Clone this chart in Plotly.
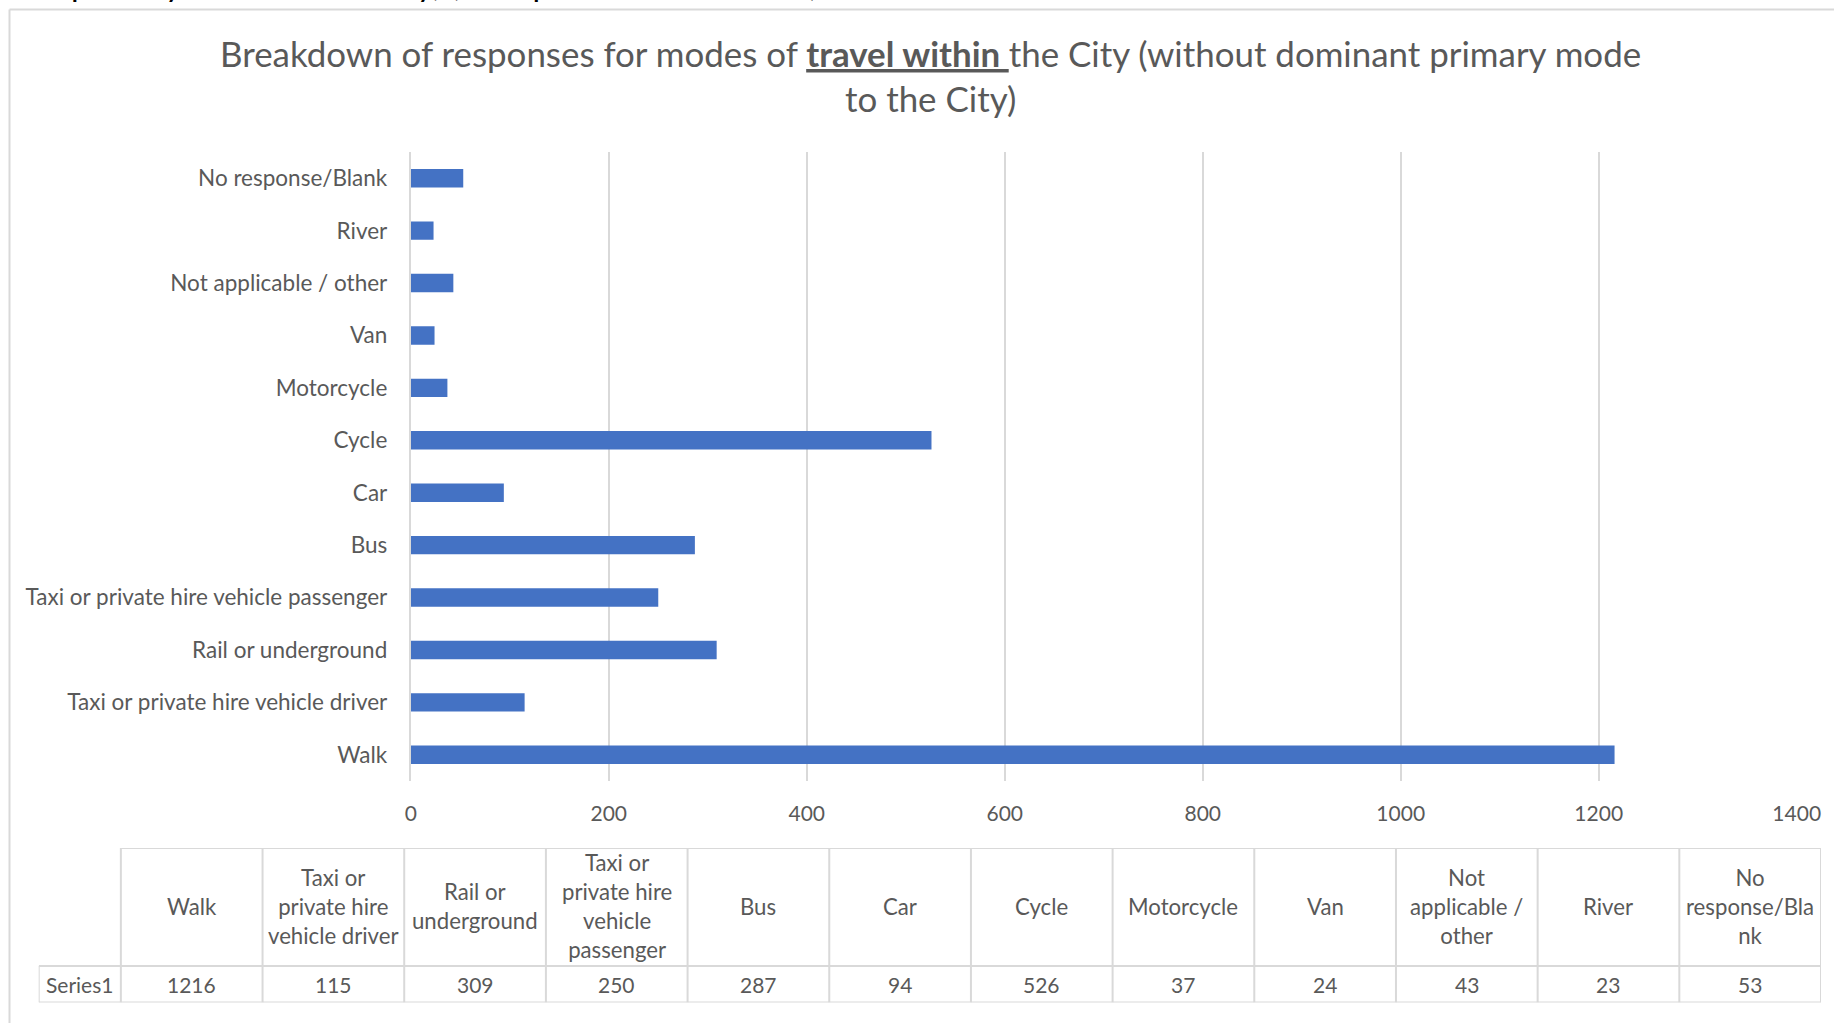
import plotly.graph_objects as go

# ---- data ----
categories = ["Walk", "Taxi or private hire vehicle driver", "Rail or underground",
              "Taxi or private hire vehicle passenger", "Bus", "Car", "Cycle",
              "Motorcycle", "Van", "Not applicable / other", "River", "No response/Blank"]
values = [1216, 115, 309, 250, 287, 94, 526, 37, 24, 43, 23, 53]
table_headers = ["Walk", "Taxi or<br>private hire<br>vehicle driver", "Rail or<br>underground",
                 "Taxi or<br>private hire<br>vehicle<br>passenger", "Bus", "Car", "Cycle",
                 "Motorcycle", "Van", "Not<br>applicable /<br>other", "River",
                 "No<br>response/Bla<br>nk"]
series_name = "Series1"
x_ticks = [0, 200, 400, 600, 800, 1000, 1200, 1400]
title_line1 = "Breakdown of responses for modes of <b><u>travel within </u></b>the City (without dominant primary mode"
title_line2 = "to the City)"
cut_text = "the primary mode to the City) (multiple modes selected)"

FONT = "Lato"
GREY = "#595959"
LINE = "#d9d9d9"
H = 1026
PAGE_W = 1858
S = 1834 / 1864.0   # observed horizontal capture scale
OFF = 6.0           # observed left offset (page px)


def fx(t):
    """target screenshot x (px) -> paper fraction"""
    return (t / S - OFF) / PAGE_W


def fy(t):
    """target screenshot y (px from top) -> paper fraction"""
    return 1 - t / H


fig = go.Figure()
fig.add_trace(go.Bar(
    x=values, y=categories, orientation="h", width=0.35,
    marker=dict(color="#4472C4", line=dict(width=0)),
    xaxis="x", yaxis="y", showlegend=False, hoverinfo="x+y"))

# invisible helper trace for table axes
fig.add_trace(go.Scatter(x=[None], y=[None], xaxis="x2", yaxis="y2", showlegend=False))

shapes = []
annotations = []

# table geometry in its own axis units
n = len(categories)
first_w = 0.58
hdr_top, row_top = 154.5, 36.5
shapes.append(dict(type="line", xref="x2", yref="y2", x0=0, x1=n, y0=hdr_top, y1=hdr_top,
                   line=dict(color=LINE, width=2)))
for yy in (row_top, 0):
    shapes.append(dict(type="line", xref="x2", yref="y2", x0=-first_w, x1=n, y0=yy, y1=yy,
                       line=dict(color=LINE, width=2)))
shapes.append(dict(type="line", xref="x2", yref="y2", x0=-first_w, x1=-first_w, y0=0, y1=row_top,
                   line=dict(color=LINE, width=2)))
for i in range(n + 1):
    shapes.append(dict(type="line", xref="x2", yref="y2", x0=i, x1=i, y0=0, y1=hdr_top,
                       line=dict(color=LINE, width=2)))
for i, (h, v) in enumerate(zip(table_headers, values)):
    annotations.append(dict(xref="x2", yref="y2", x=i + 0.5, y=(hdr_top + row_top) / 2 + 1,
                            text=h, showarrow=False, font=dict(family=FONT, size=22.2, color=GREY),
                            xanchor="center", yanchor="middle", align="center"))
    annotations.append(dict(xref="x2", yref="y2", x=i + 0.5, y=row_top / 2,
                            text=str(v), showarrow=False, font=dict(family=FONT, size=21, color=GREY),
                            xanchor="center", yanchor="middle"))
annotations.append(dict(xref="x2", yref="y2", x=-first_w / 2, y=row_top / 2, text=series_name,
                        showarrow=False, font=dict(family=FONT, size=21, color=GREY),
                        xanchor="center", yanchor="middle"))

# title
annotations.append(dict(xref="paper", yref="paper", x=fx(930), y=fy(54),
                        text=title_line1, showarrow=False,
                        font=dict(family=FONT, size=34.9, color=GREY),
                        xanchor="center", yanchor="middle"))
annotations.append(dict(xref="paper", yref="paper", x=fx(930), y=fy(98.5),
                        text=title_line2, showarrow=False,
                        font=dict(family=FONT, size=34.9, color=GREY),
                        xanchor="center", yanchor="middle"))
# cut-off text at very top of the screenshot (only its lowest part is visible)
annotations.append(dict(xref="paper", yref="paper", x=fx(13), y=fy(-17),
                        text=cut_text, showarrow=False,
                        font=dict(family=FONT, size=33, color="#000000"),
                        xanchor="left", yanchor="middle"))

# frame lines
shapes.append(dict(type="line", xref="paper", yref="paper", x0=fx(9.4), x1=1, y0=fy(9.4), y1=fy(9.4),
                   line=dict(color=LINE, width=2)))
shapes.append(dict(type="line", xref="paper", yref="paper", x0=fx(9.4), x1=fx(9.4), y0=fy(9.4), y1=fy(1023),
                   line=dict(color=LINE, width=2)))

fig.update_layout(
    width=PAGE_W, height=H, margin=dict(l=0, r=0, t=0, b=0),
    paper_bgcolor="white", plot_bgcolor="white",
    xaxis=dict(domain=[fx(410.7), fx(1796.7)], range=[0, 1400], tickvals=x_ticks,
               showgrid=True, gridcolor=LINE, gridwidth=1.5, zeroline=False, showline=False,
               tickfont=dict(family=FONT, size=21, color=GREY), anchor="y", ticks="",
               ticklabelstandoff=18),
    yaxis=dict(domain=[fy(781), fy(152)], type="category", categoryorder="array",
               categoryarray=categories, showline=True, linecolor=LINE, linewidth=2,
               showgrid=False, zeroline=False, ticks="", ticklabelstandoff=17,
               tickfont=dict(family=FONT, size=22.5, color=GREY), anchor="x"),
    xaxis2=dict(domain=[fx(38.6), fx(1821)], range=[-first_w, n], visible=False, anchor="y2"),
    yaxis2=dict(domain=[fy(1002.5), fy(848)], range=[0, hdr_top], visible=False, anchor="x2"),
    shapes=shapes, annotations=annotations,
)

fig.write_html("out.html",
               config={"displayModeBar": False},
               post_script="document.body.style.margin='0';document.body.style.overflow='hidden';")
